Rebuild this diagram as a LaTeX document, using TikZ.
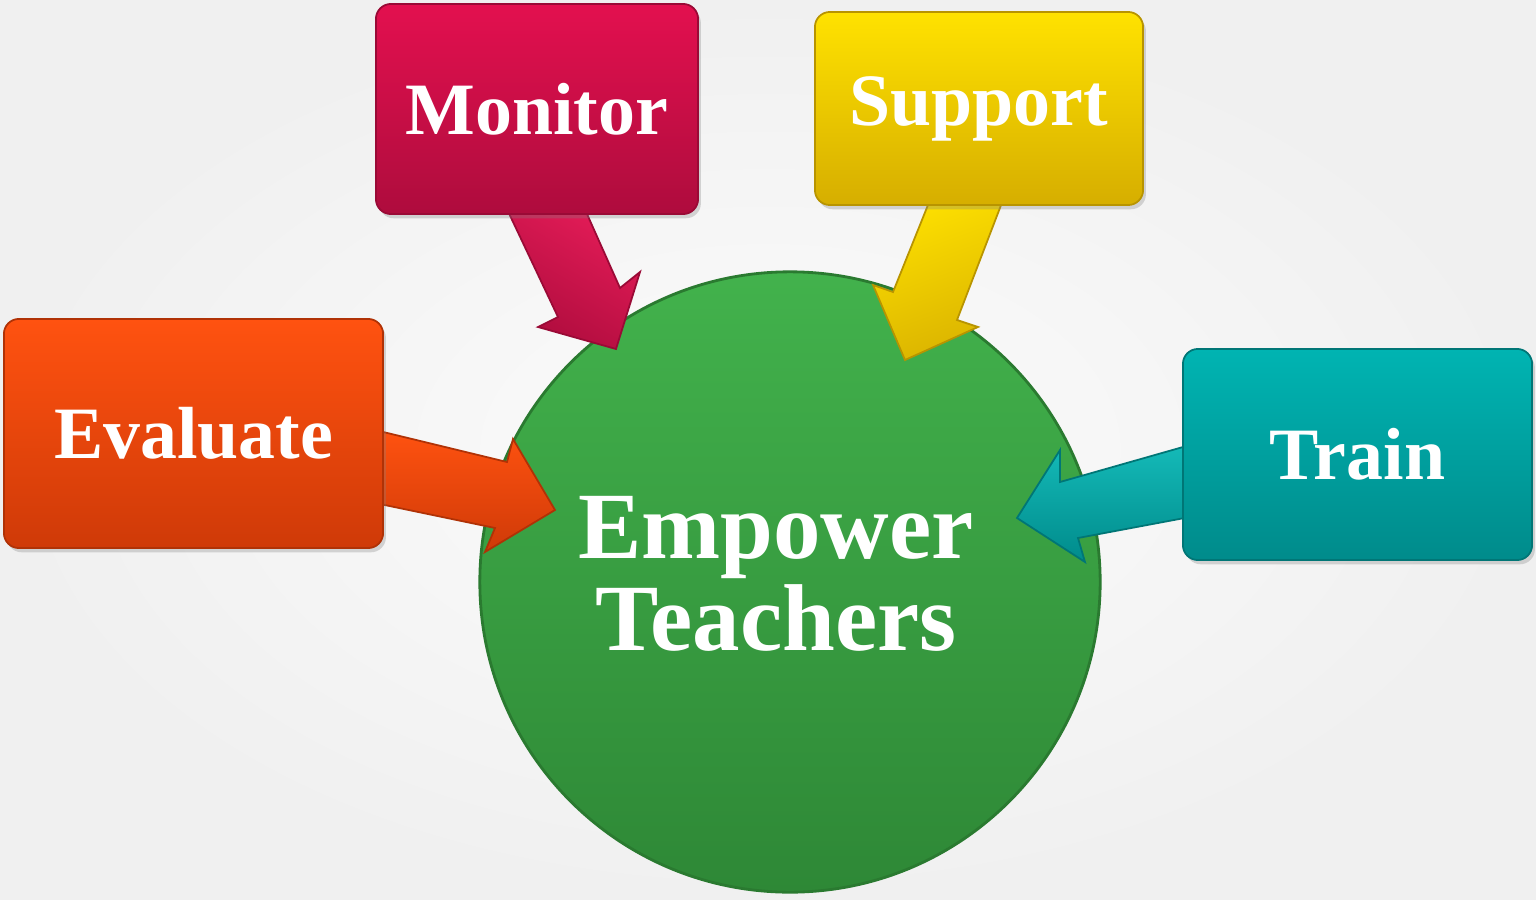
\documentclass[tikz,border=0pt]{standalone}
\usepackage{fontspec}
\setmainfont{Liberation Serif}
\usetikzlibrary{shadows}
\definecolor{bgout}{HTML}{F0F0F0}
\definecolor{bgin}{HTML}{FCFCFC}
\definecolor{monT}{HTML}{E3104F}\definecolor{monB}{HTML}{AE0C3D}\definecolor{monD}{HTML}{9A0A36}
\definecolor{supT}{HTML}{FFE200}\definecolor{supB}{HTML}{D6AE00}\definecolor{supD}{HTML}{B89400}
\definecolor{evaT}{HTML}{FF5210}\definecolor{evaB}{HTML}{CF3A08}\definecolor{evaD}{HTML}{B03206}
\definecolor{trnT}{HTML}{00B4B2}\definecolor{trnB}{HTML}{008B8B}\definecolor{trnD}{HTML}{007676}
\definecolor{grnT}{HTML}{42B24C}\definecolor{grnB}{HTML}{2E8836}\definecolor{grnD}{HTML}{2A7A30}
\tikzset{
  box/.style={rounded corners=0.15cm, draw=#1, line width=0.5pt,
    drop shadow={opacity=0.3, shadow xshift=0.8pt, shadow yshift=-1.2pt},
    text=white, font=\bfseries\fontsize{21}{24}\selectfont, inner sep=0pt},
  hub/.style={circle, draw=grnD, line width=0.8pt, top color=grnT, bottom color=grnB,
    minimum size=6.2cm, inner sep=0pt},
  hubtext/.style={text=white, align=center, inner sep=0pt,
    font=\bfseries\fontsize{27}{26}\selectfont},
  blockarrow/.style={draw=#1, line width=0.5pt, line join=miter},
}
\begin{document}
\begin{tikzpicture}[x=0.01cm,y=-0.01cm]
\useasboundingbox (0,0) rectangle (1536,900);
\shade[inner color=bgin, outer color=bgout] (0,0) rectangle (1536,900);

% central circle
\node[hub] (hub) at (790,582) {};
\node[hubtext] (hubtxt) at (776,574) {Empower\\Teachers};

% block arrows (drawn under the boxes)
\shade[blockarrow=monD, top color=monT!95!white, bottom color=monB, shading angle=-30]
  (505,205) -- (558,317) -- (538,327) -- (616,349) -- (640,272) -- (620,288) -- (583,205) -- cycle;
\shade[blockarrow=supD, top color=supT!95!supB, bottom color=supB!90!supT, shading angle=20]
  (930,200) -- (893,292) -- (873,285) -- (905,360) -- (978,327) -- (957,320) -- (1003,200) -- cycle;
\shade[blockarrow=evaD, top color=evaT, bottom color=evaB]
  (375,430) -- (507,462) -- (513,439) -- (555,510) -- (485,552) -- (495,528) -- (375,503) -- cycle;
\shade[blockarrow=trnD, top color=trnT!92!white, bottom color=trnB]
  (1190,445) -- (1060,482) -- (1060,450) -- (1017,518) -- (1085,562) -- (1078,538) -- (1190,517) -- cycle;

% boxes
\node[box=monD, top color=monT, bottom color=monB, minimum width=3.22cm, minimum height=2.10cm]
  (monitor) at (537,109) {Monitor};
\node[box=supD, top color=supT, bottom color=supB, minimum width=3.28cm, minimum height=1.93cm]
  (support) at (979,108.5) {Support};
\node[box=evaD, top color=evaT, bottom color=evaB, minimum width=3.79cm, minimum height=2.29cm]
  (evaluate) at (193.5,433.5) {Evaluate};
\node[box=trnD, top color=trnT, bottom color=trnB, minimum width=3.49cm, minimum height=2.11cm]
  (train) at (1357.5,454.5) {Train};
\end{tikzpicture}
\end{document}
